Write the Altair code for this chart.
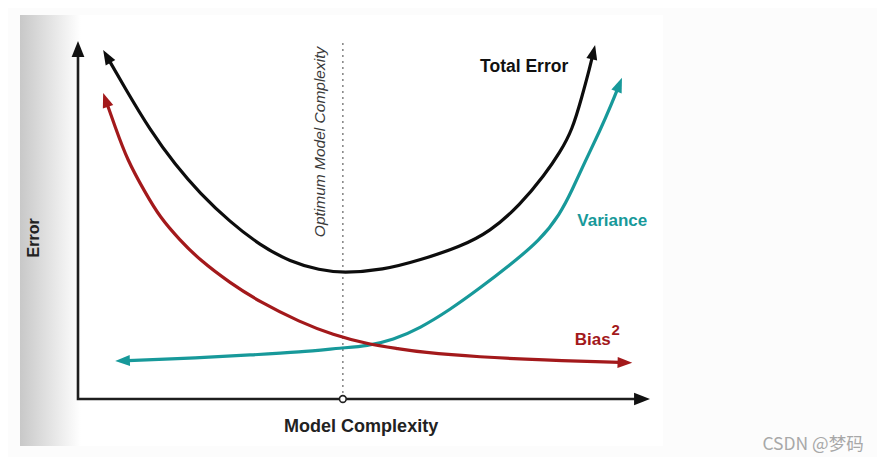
import math
import altair as alt
import pandas as pd

# ---------------- data (x: model complexity 0-10, y: error 0-10) ----------------
total_x = [0.44, 0.82, 1.26, 1.70, 2.13, 2.66, 3.18, 3.71, 4.23, 4.63, 5.33, 5.98, 6.68, 7.20, 7.73, 8.16, 8.43, 8.64, 8.81, 8.95, 9.04]
total_y = [9.75, 8.69, 7.51, 6.54, 5.75, 4.94, 4.30, 3.83, 3.60, 3.52, 3.60, 3.88, 4.25, 4.67, 5.42, 6.26, 6.90, 7.51, 8.44, 9.27, 9.89]

bias_x = [0.44, 0.65, 0.86, 1.17, 1.43, 1.78, 2.13, 2.66, 3.18, 3.88, 4.46, 5.05, 5.63, 5.98, 7.03, 8.08, 9.69]
bias_y = [8.55, 7.60, 6.68, 5.78, 5.08, 4.44, 3.88, 3.24, 2.71, 2.15, 1.79, 1.54, 1.40, 1.31, 1.17, 1.09, 1.01]

var_x = [0.65, 2.13, 3.01, 3.88, 4.63, 5.05, 5.51, 5.98, 6.50, 7.03, 7.55, 8.08, 8.43, 8.64, 8.86, 9.13, 9.32, 9.51]
var_y = [1.06, 1.15, 1.23, 1.31, 1.43, 1.48, 1.65, 1.98, 2.49, 3.10, 3.74, 4.44, 5.17, 5.84, 6.62, 7.51, 8.21, 8.97]

optimum_x = 4.63
axis_max_x = 10.0
axis_max_y = 10.0

labels = ["Total Error", "Variance", "Bias", "2", "Optimum Model Complexity", "Error", "Model Complexity", "CSDN @梦码"]
label_x = [7.80, 9.34, 9.00, 9.40, 4.23, -0.77, 4.95, 12.85]
label_y = [9.27, 4.97, 1.65, 1.93, 7.18, 4.50, -0.78, -1.29]

# ---------------- layout ----------------
W, H = 869, 449
SX, SY = 57.2, 35.8          # px per unit
OX, OY = 78 - 8, 399 - 8     # origin inside the canvas
umin, umax = -OX / SX, (W - OX) / SX
vmin, vmax = (OY - H) / SY, OY / SY

BLACK = "#0d0d0d"
RED = "#a3191b"
TEAL = "#17999a"
FONT = "Liberation Sans"

xs = alt.Scale(domain=[umin, umax], nice=False, zero=False)
ys = alt.Scale(domain=[vmin, vmax], nice=False, zero=False)


def X(f="x"):
    return alt.X(f"{f}:Q", scale=xs, axis=None)


def Y(f="y"):
    return alt.Y(f"{f}:Q", scale=ys, axis=None)


def head(x0, y0, x1, y1, trim):
    dx = (x1 - x0) * SX
    dy = -(y1 - y0) * SY
    L = math.hypot(dx, dy)
    ux, uy = dx / L, dy / L
    ang = math.degrees(math.atan2(dx, -dy)) % 360
    tx, ty = x1 - ux * trim / SX, y1 + uy * trim / SY
    return ang, tx, ty


def curve(xs_, ys_, color, width=3.2, path="M0,0L0.45,1.2L-0.45,1.2Z", size=600, trim=6):
    a0, sx0, sy0 = head(xs_[1], ys_[1], xs_[0], ys_[0], trim)
    a1, sx1, sy1 = head(xs_[-2], ys_[-2], xs_[-1], ys_[-1], trim)
    lx = [sx0] + list(xs_[1:-1]) + [sx1]
    ly = [sy0] + list(ys_[1:-1]) + [sy1]
    df = pd.DataFrame({"x": lx, "y": ly, "o": range(len(lx))})
    line = alt.Chart(df).mark_line(color=color, strokeWidth=width, interpolate="basis").encode(
        x=X(), y=Y(), order="o:Q")
    hd = pd.DataFrame({"x": [xs_[0], xs_[-1]], "y": [ys_[0], ys_[-1]], "a": [a0, a1]})
    heads = alt.Chart(hd).mark_point(shape=path, filled=True, color=color, size=size, opacity=1).encode(
        x=X(), y=Y(), angle=alt.Angle("a:Q", scale=None))
    return [line, heads]


layers = []

# image background and left gradient strip
bg = pd.DataFrame({"x": [-1.014], "x2": [10.227], "y": [-1.313], "y2": [10.726]})
layers.append(alt.Chart(bg).mark_rect(color="white").encode(x=X(), x2="x2", y=Y(), y2="y2"))
strip = pd.DataFrame({"x": [-1.014], "x2": [0.05], "y": [-1.313], "y2": [10.726]})
layers.append(alt.Chart(strip).mark_rect(
    fill=alt.Gradient(gradient="linear",
                      stops=[alt.GradientStop(color="#c8c8c8", offset=0),
                             alt.GradientStop(color="#ffffff", offset=1)],
                      x1=0, x2=1, y1=0, y2=0)).encode(x=X(), x2="x2", y=Y(), y2="y2"))

# optimum dotted line
opt = pd.DataFrame({"x": [optimum_x, optimum_x], "y": [0.17, 9.97]})
layers.append(alt.Chart(opt).mark_line(color="#8a8a8a", strokeWidth=1.6, strokeDash=[2, 4]).encode(x=X(), y=Y()))

# axes with arrowheads
ax_path = "M0,0L0.5,1.25L-0.5,1.25Z"
a_top, tx_top, ty_top = head(0, 0, 0, axis_max_y, 8)
a_rt, tx_rt, ty_rt = head(0, 0, axis_max_x, 0, 8)
axdf = pd.DataFrame({"x": [tx_top, 0, tx_rt], "y": [ty_top, 0, ty_rt], "o": [0, 1, 2]})
layers.append(alt.Chart(axdf).mark_line(color="#1e1e1e", strokeWidth=2.6, strokeJoin="miter").encode(
    x=X(), y=Y(), order="o:Q"))
axh = pd.DataFrame({"x": [0, axis_max_x], "y": [axis_max_y, 0], "a": [a_top, a_rt]})
layers.append(alt.Chart(axh).mark_point(shape=ax_path, filled=True, color="#111", size=650, opacity=1).encode(
    x=X(), y=Y(), angle=alt.Angle("a:Q", scale=None)))

# curves
layers += curve(var_x, var_y, TEAL)
layers += curve(bias_x, bias_y, RED)
layers += curve(total_x, total_y, BLACK)

# small circle on x axis
circ = pd.DataFrame({"x": [optimum_x], "y": [0.0]})
layers.append(alt.Chart(circ).mark_point(shape="circle", filled=True, fill="white", stroke="#222",
                                          strokeWidth=1.6, size=45, opacity=1).encode(x=X(), y=Y()))


def text(i, color, size, weight="bold", style="normal", angle=0, font=FONT):
    df = pd.DataFrame({"t": [labels[i]], "x": [label_x[i]], "y": [label_y[i]]})
    return alt.Chart(df).mark_text(color=color, fontSize=size, fontWeight=weight, fontStyle=style,
                                   angle=angle, font=font, align="center", baseline="middle").encode(
        x=X(), y=Y(), text="t:N")


layers.append(text(0, "#111", 17.5))
layers.append(text(1, TEAL, 17))
layers.append(text(2, RED, 17))
layers.append(text(3, RED, 15))
layers.append(text(4, "#3a3a3a", 15.5, weight="normal", style="italic", angle=270))
layers.append(text(5, "#222", 16, angle=270))
layers.append(text(6, "#222", 18))
layers.append(text(7, "#a8a8a8", 17.5, weight="normal", font="Noto Sans CJK SC"))

chart = alt.layer(*layers).properties(
    width=W, height=H, autosize=alt.AutoSizeParams(type="none"), padding=0, background="#fcfcfc"
).configure_view(stroke=None)

chart.save("out.html", embed_options={"renderer": "svg", "actions": False})
